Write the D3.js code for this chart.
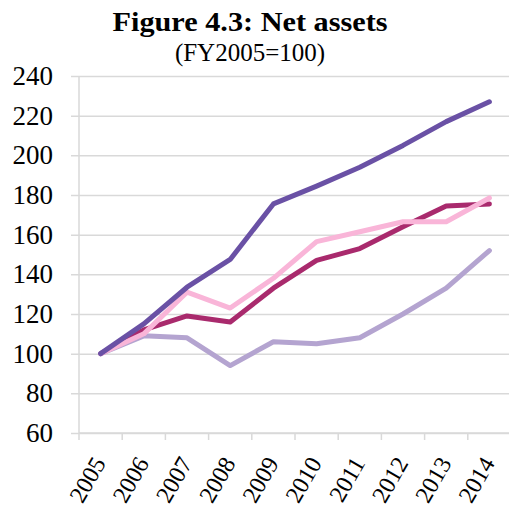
<!DOCTYPE html>
<html>
<head>
<meta charset="utf-8">
<script src="https://cdn.jsdelivr.net/npm/d3@7"></script>
<style>
	body { margin: 0; background: #fff; }
	svg { display: block; font-family: "Liberation Serif", "Times New Roman", serif; }
</style>
</head>
<body>
<div id="chart"></div>
<script>
var years = ["2005", "2006", "2007", "2008", "2009", "2010", "2011", "2012", "2013", "2014"];
var yTicks = [60, 80, 100, 120, 140, 160, 180, 200, 220, 240];

// series values, FY2005 = 100
var seriesLight   = [100, 109, 108, 94, 106, 105, 108, 120, 133, 152];
var seriesMagenta = [100, 112, 119, 116, 133, 147, 153, 164, 174.5, 175.5];
var seriesPink    = [100, 110, 131, 123, 138, 156.5, 161.5, 166.5, 166.5, 178.5];
var seriesDark    = [100, 115, 133.5, 147.5, 175.5, 184.5, 194, 205, 217, 227];

var seriesList = [
	{ name: "light", values: seriesLight, color: "#b4a4d0" },
	{ name: "magenta", values: seriesMagenta, color: "#a92a6d" },
	{ name: "pink", values: seriesPink, color: "#f9b5d8" },
	{ name: "dark", values: seriesDark, color: "#6a51a5" }
];

var W = 509, H = 512;
var mLeft = 79, mTop = 76, mBottom = 433, mRight = 511;

var svg = d3.select("#chart").append("svg")
	.attr("width", W)
	.attr("height", H);

var x = d3.scaleBand().domain(years).range([mLeft, mRight]);
var y = d3.scaleLinear().domain([60, 240]).range([mBottom, mTop]);

/* Title */
svg.append("text")
	.attr("x", 250)
	.attr("y", 31)
	.attr("text-anchor", "middle")
	.attr("font-weight", "bold")
	.attr("font-size", 27)
	.attr("textLength", 275)
	.attr("lengthAdjust", "spacingAndGlyphs")
	.text("Figure 4.3: Net assets");

svg.append("text")
	.attr("x", 250)
	.attr("y", 61)
	.attr("text-anchor", "middle")
	.attr("font-size", 25)
	.text("(FY2005=100)");

/* Grid + y axis */
var yAxis = svg.append("g")
	.attr("transform", "translate(" + mLeft + ",0)")
	.call(d3.axisLeft(y).tickValues(yTicks).tickSize(8).tickPadding(9));
yAxis.select(".domain").remove();
yAxis.selectAll(".tick line")
	.attr("x2", mRight - mLeft)
	.attr("x1", -8)
	.attr("stroke", "#d9d9d9")
	.attr("stroke-width", 1.5);
yAxis.selectAll(".tick text")
	.attr("x", -26)
	.attr("font-size", 27)
	.attr("font-family", "Liberation Serif, Times New Roman, serif")
	.attr("fill", "#000");

/* x axis */
var xAxis = svg.append("g")
	.attr("transform", "translate(0," + mBottom + ")");
xAxis.append("line")
	.attr("x1", mLeft)
	.attr("x2", mRight)
	.attr("stroke", "#d9d9d9")
	.attr("stroke-width", 1.5);
xAxis.append("line")
	.attr("x1", mLeft)
	.attr("x2", mLeft)
	.attr("y1", mTop - mBottom)
	.attr("y2", 0)
	.attr("stroke", "#d9d9d9")
	.attr("stroke-width", 1.5);
xAxis.selectAll(".xtick")
	.data(years)
	.enter().append("line")
	.attr("class", "xtick")
	.attr("x1", function(d){ return x(d); })
	.attr("x2", function(d){ return x(d); })
	.attr("y1", 0)
	.attr("y2", 7)
	.attr("stroke", "#d9d9d9")
	.attr("stroke-width", 1.5);
xAxis.selectAll(".xlabel")
	.data(years)
	.enter().append("text")
	.attr("class", "xlabel")
	.attr("text-anchor", "end")
	.attr("font-size", 24)
	.attr("transform", function(d){
		return "translate(" + (x(d) + x.bandwidth()/2 + 6) + ",30) rotate(-60)";
	})
	.text(function(d){ return d; });

/* Lines */
var line = d3.line()
	.x(function(d, i){ return x(years[i]) + x.bandwidth()/2; })
	.y(function(d){ return y(d); });

svg.selectAll(".series")
	.data(seriesList)
	.enter().append("path")
	.attr("class", "series")
	.attr("d", function(s){ return line(s.values); })
	.attr("fill", "none")
	.attr("stroke", function(s){ return s.color; })
	.attr("stroke-width", 5)
	.attr("stroke-linecap", "round")
	.attr("stroke-linejoin", "round");
</script>
</body>
</html>
